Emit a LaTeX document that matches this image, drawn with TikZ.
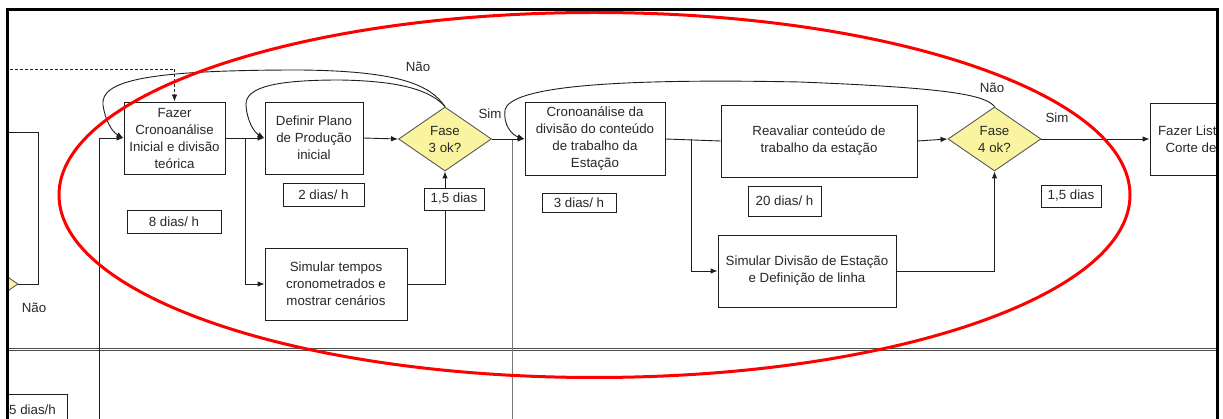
\documentclass[tikz,border=0pt]{standalone}
\usepackage{fontspec}
\setmainfont{Liberation Sans}
\usetikzlibrary{shapes.geometric,arrows.meta}
\definecolor{ln}{RGB}{30,30,30}
\definecolor{tx}{RGB}{40,40,40}
\definecolor{dia}{RGB}{250,244,160}
\definecolor{lane}{RGB}{120,120,120}
\begin{document}
\begin{tikzpicture}[x=1pt,y=-1pt,
  every node/.style={font=\fontsize{13.3}{17}\selectfont, text=tx},
  box/.style={draw=ln, fill=white, inner sep=0pt, align=center, line width=0.9pt},
  dec/.style={diamond, draw=gray!70!black, fill=dia, inner sep=0pt, minimum width=93pt, minimum height=64pt, align=center, line width=0.9pt},
  arr/.style={draw=ln, line width=0.9pt, -{Latex[length=7pt,width=5.5pt]}},
  con/.style={draw=ln, line width=0.9pt},
  lbl/.style={inner sep=0pt}]
\useasboundingbox (0,0) rectangle (1223,419);
\begin{scope}
\clip (9,11) rectangle (1216,419);
% lane separator
\coordinate (h1) at (0,348.3);
\coordinate (h2) at (1223,348.3);
\coordinate (h3) at (0,350.7);
\coordinate (h4) at (1223,350.7);
\draw[gray!60!black, line width=0.8pt] (h1) -- (h2);
\draw[gray!60!black, line width=0.8pt] (h3) -- (h4);
% nodes
\node[dec] (ld) at (-28.5,284) {};
\node[box, minimum width=101, minimum height=72] (fazer) at (174.5,138) {Fazer\\Cronoanálise\\Inicial e divisão\\teórica};
\node[box, minimum width=98, minimum height=72] (definir) at (314,138) {Definir Plano\\de Produção\\inicial};
\node[box, minimum width=81, minimum height=23] (d2) at (323.5,194.5) {2 dias/ h};
\node[box, minimum width=94, minimum height=23] (d8) at (174,221.5) {8 dias/ h};
\node[dec] (fase3) at (445,139) {Fase\\3 ok?};
\node[box, minimum width=142, minimum height=72] (simT) at (336,284) {Simular tempos\\cronometrados e\\mostrar cenários};
\node[box, minimum width=140, minimum height=73] (crono) at (595,139) {Cronoanálise da\\divisão do conteúdo\\de trabalho da\\Estação};
\node[box, minimum width=74, minimum height=19] (d3) at (579,202.5) {3 dias/ h};
\node[box, minimum width=196, minimum height=72] (reav) at (819,141) {Reavaliar conteúdo de\\trabalho da estação};
\node[box, minimum width=73, minimum height=30] (d20) at (784.5,201) {20 dias/ h};
\node[box, minimum width=178, minimum height=72] (simD) at (807,271) {Simular Divisão de Estação\\e Definição de linha};
\node[dec] (fase4) at (994.5,139) {Fase\\4 ok?};
\node[box, minimum width=60, minimum height=22] (d15b) at (1071,196) {1,5 dias};
\node[box, minimum width=82, minimum height=72] (lista) at (1191,139) {Fazer Lista\\Corte de};
\node[box, anchor=north, minimum width=69, inner ysep=10pt, text depth=30pt] (d5) at (32.5,394) {5 dias/h};
% labels
\node[lbl] (nao0) at (34,308) {Não};
\node[lbl] (nao1) at (418,67) {Não};
\node[lbl] (sim1) at (490,114) {Sim};
\node[lbl] (nao2) at (992,88) {Não};
\node[lbl] (sim2) at (1057,118) {Sim};
% coordinates for free ends
\coordinate (lt) at (0,132);
\coordinate (lb) at (99,430);
\coordinate (ds) at (0,69);
\coordinate (b1) at (245,138);
\coordinate (b2) at (691,139);
\coordinate (g1) at (512,139);
\coordinate (g2) at (512,430);
% connectors
\draw[lane, line width=0.7pt] (g1) -- (g2);
\draw[con] (lt) -- (38,132) |- (ld.east);
\draw[arr] (lb) |- (fazer.west);
\draw[arr, dash pattern=on 3pt off 2pt, line width=0.8pt] (ds) -| (fazer.north);
\draw[arr] (fazer.east) -- (definir.west);
\draw[arr] (b1) |- (simT.west);
\draw[arr] (definir.east) -- (fase3.west);
\draw[arr] (simT.east) -| (fase3.south);
\node[box, minimum width=60, minimum height=22] (d15a) at (454,199) {1,5 dias};
\draw[arr] (fase3.east) -- (crono.west);
\draw[con] (crono.east) -- (reav.west);
\draw[arr] (b2) |- (simD.west);
\draw[arr] (reav.east) -- (fase4.west);
\draw[arr] (simD.east) -| (fase4.south);
\draw[arr] (fase4.east) -- (lista.west);
% loop-back curves
\draw[arr] (fase3.north) .. controls (430,85) and (400,71) .. (300,70)
  .. controls (150,70) and (100,80) .. (103,105)
  .. controls (105,120) and (112,132) .. (fazer.west);
\draw[arr] (fase3.north) .. controls (430,90) and (400,81) .. (340,80)
  .. controls (280,80) and (245,86) .. (246,105)
  .. controls (247,122) and (255,133) .. (definir.west);
\draw[arr] (fase4.north) .. controls (985,95) and (950,88) .. (800,82)
  .. controls (600,78) and (510,88) .. (505,110)
  .. controls (503,125) and (512,135) .. (crono.west);
% red ellipse
\draw[red, line width=3pt] (594.5,195) ellipse [x radius=535.5, y radius=182.5];
\end{scope}
% frame
\coordinate (f1) at (7.5,430);
\coordinate (f2) at (7.5,9.7);
\coordinate (f3) at (1217.7,9.7);
\coordinate (f4) at (1217.7,430);
\draw[black, line width=3pt, line join=miter] (f1) -- (f2) -- (f3) -- (f4);
\end{tikzpicture}
\end{document}
